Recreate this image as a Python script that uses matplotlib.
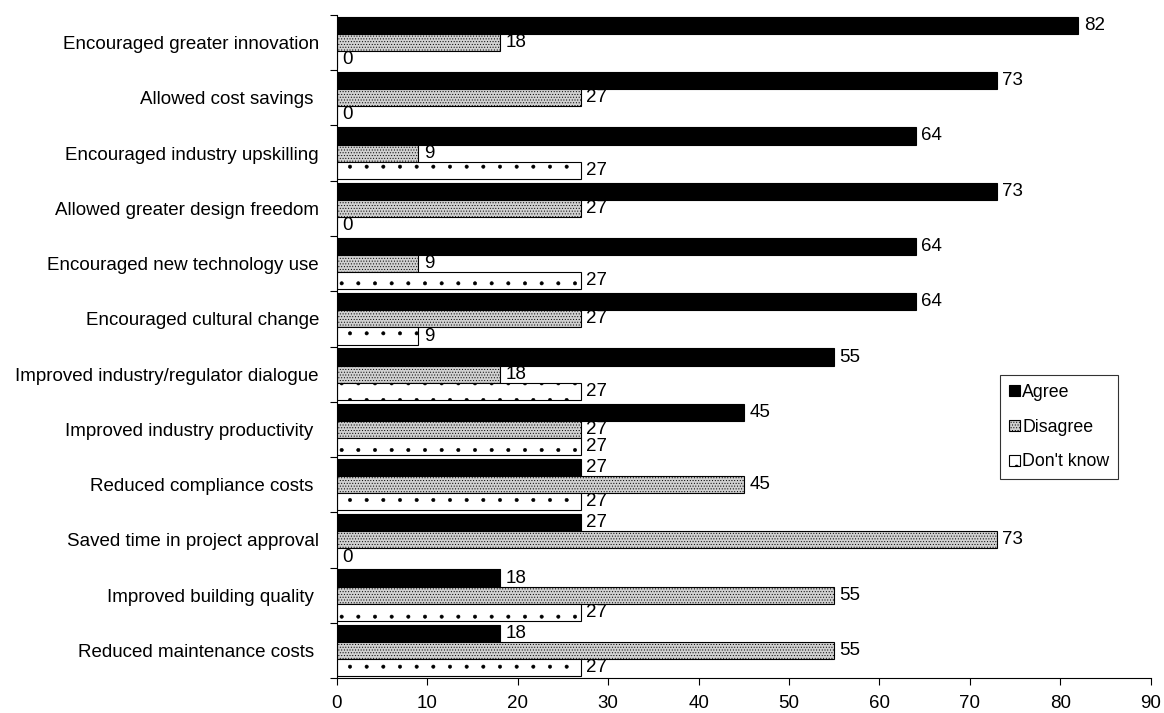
import numpy as np
import matplotlib
matplotlib.use("Agg")
import matplotlib.pyplot as plt

plt.rcParams['font.family'] = ['Liberation Sans', 'DejaVu Sans']
plt.rcParams['hatch.linewidth'] = 0.4

statements = [
	"Encouraged greater innovation",
	"Allowed cost savings ",
	"Encouraged industry upskilling",
	"Allowed greater design freedom",
	"Encouraged new technology use",
	"Encouraged cultural change",
	"Improved industry/regulator dialogue",
	"Improved industry productivity ",
	"Reduced compliance costs ",
	"Saved time in project approval",
	"Improved building quality ",
	"Reduced maintenance costs ",
]
agree = [82, 73, 64, 73, 64, 64, 55, 45, 27, 27, 18, 18]
disagree = [18, 27, 9, 27, 9, 27, 18, 27, 45, 73, 55, 55]
dont_know = [0, 0, 27, 0, 27, 9, 27, 27, 27, 0, 27, 27]

fs = 13.5

fig = plt.figure(figsize=(11.64, 7.13), dpi=100)
ax = fig.add_axes([0.2895, 0.049, 0.699, 0.93])

n = len(statements)
y = np.arange(n)[::-1].astype(float)
h = 0.31

series = [
	(agree, "Agree", dict(color="black", edgecolor="black")),
	(disagree, "Disagree", dict(facecolor="#d0d0d0", edgecolor="black", hatch="......")),
	(dont_know, "Don't know", dict(facecolor="white", edgecolor="black", hatch=".")),
]

for k, (vals, name, style) in enumerate(series):
	pos = y + (1 - k) * h
	bars = ax.barh(pos, vals, height=h, linewidth=0.8, label=name, **style)
	for b, v in zip(bars, vals):
		ax.text(v + 0.6, b.get_y() + h / 2, str(v), va="center", ha="left", fontsize=fs)

ax.set_xlim(0, 90)
ax.set_ylim(-0.5, n - 0.5)
ax.set_xticks(np.arange(0, 91, 10))
ax.set_yticks(np.arange(n + 1) - 0.5, minor=False)
ax.set_yticklabels([])
ax.set_yticks(y, minor=True)
ax.set_yticklabels(statements, minor=True)
ax.tick_params(axis="y", which="minor", length=0, pad=13, labelsize=fs)
ax.tick_params(axis="y", which="major", length=5, direction="out")
ax.tick_params(axis="x", length=5, labelsize=fs, pad=7)
for s in ["top", "right"]:
	ax.spines[s].set_visible(False)

leg = ax.legend(loc="upper left", bbox_to_anchor=(0.815, 0.457), frameon=True, fancybox=False,
	edgecolor="black", fontsize=12.8, handlelength=0.6, handleheight=0.6,
	handletextpad=0.15, labelspacing=1.0, borderpad=0.5, borderaxespad=0)
leg.get_frame().set_linewidth(0.8)

fig.savefig("out.png", dpi=100)
